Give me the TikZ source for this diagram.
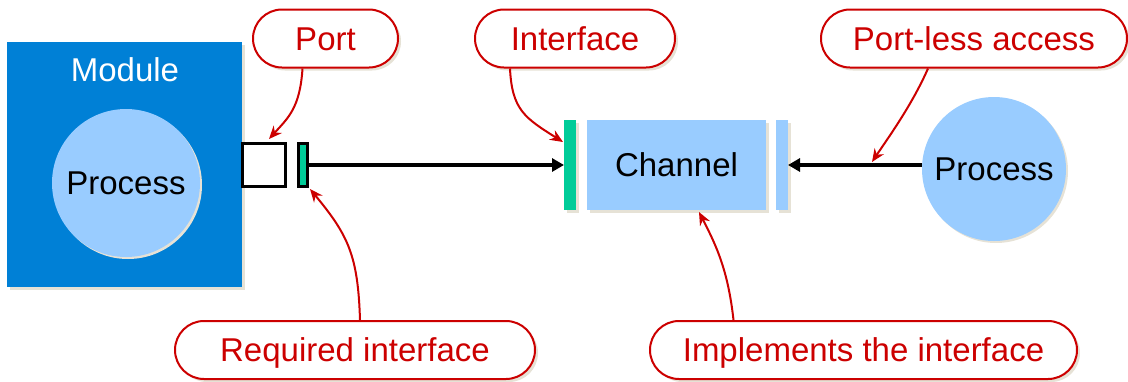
\documentclass[tikz,border=0pt]{standalone}
\usepackage{fontspec}
\setmainfont{Liberation Sans}
\usetikzlibrary{arrows.meta,shadows}
\definecolor{modblue}{RGB}{0,128,214}
\definecolor{lblue}{RGB}{153,204,255}
\definecolor{igreen}{RGB}{0,204,153}
\definecolor{cred}{RGB}{204,0,0}
\definecolor{shad}{RGB}{230,226,214}
\begin{document}
\begin{tikzpicture}[x=1pt,y=-1pt,
  font=\fontsize{33}{39}\selectfont,
  every node/.style={text height=23.6pt,text depth=0pt},
  shd/.style={drop shadow={shadow xshift=3pt,shadow yshift=-3pt,fill=shad,opacity=1}},
  blk/.style={rectangle,inner sep=0pt,outer sep=0pt},
  callout/.style={rectangle,draw=cred,line width=2pt,fill=white,text=cred,
    rounded corners=29pt,minimum height=58pt,inner sep=0pt,
    drop shadow={shadow xshift=3pt,shadow yshift=-3pt,fill=shad,opacity=1}},
  redarrow/.style={draw=cred,line width=2pt,-{Stealth[length=13pt,width=11pt]}},
  blkarrow/.style={draw=black,line width=3.2pt,-{Triangle[length=12pt,width=13pt]}}
]
\useasboundingbox (0,0) rectangle (1128,381);

% module
\node[blk,shd,fill=modblue,minimum width=235pt,minimum height=245pt] (module) at (124.5,164.5) {};
\node[text=white] (modlabel) at (125,70) {Module};
\node[circle,inner sep=0pt,fill=lblue,minimum size=148pt,
  drop shadow={shadow xshift=2pt,shadow yshift=-2pt,fill=shad,opacity=1}] (proc1) at (126,183) {Process};

% port and required interface
\node[blk,draw=black,line width=3pt,fill=white,minimum width=43pt,minimum height=43pt] (port) at (264,165) {};
\node[blk,draw=black,line width=3pt,fill=igreen,minimum width=9pt,minimum height=43pt] (req) at (303,165) {};

% channel
\node[blk,shd,fill=igreen,minimum width=12pt,minimum height=90pt] (ibar) at (570,165) {};
\node[blk,shd,fill=lblue,minimum width=179pt,minimum height=90pt] (chan) at (676.5,165) {Channel};
\node[blk,shd,fill=lblue,minimum width=12pt,minimum height=90pt] (rbar) at (782,165) {};

% right process
\node[circle,inner sep=0pt,fill=lblue,minimum size=144pt,
  drop shadow={shadow xshift=2pt,shadow yshift=-2pt,fill=shad,opacity=1}] (proc2) at (994,169) {Process};

% black arrows
\draw[blkarrow] (req.east) -- (ibar.west);
\draw[blkarrow] (proc2.west |- rbar.east) -- (rbar.east);

% callouts
\node[callout,minimum width=145pt] (portc) at (325.5,38.5) {Port};
\node[callout,minimum width=200pt] (intc) at (575,38.5) {Interface};
\node[callout,minimum width=306pt] (plc) at (974,38.5) {Port-less access};
\node[callout,minimum width=360pt] (reqc) at (355,350) {Required interface};
\node[callout,minimum width=427pt] (implc) at (863.5,350) {Implements the interface};

% targets
\coordinate (porttip) at (269,139);
\coordinate (inttip) at (563,142);
\coordinate (pltip) at (872,162);
\coordinate (reqtip) at (310,189);
\coordinate (impltip) at (699,212);

% red arrows
\draw[redarrow] ([xshift=-23pt]portc.south) .. controls (300,108) and (288,118) .. (porttip);
\draw[redarrow] ([xshift=-65pt]intc.south) .. controls (512,110) and (525,118) .. (inttip);
\draw[redarrow] ([xshift=-46pt]plc.south) .. controls (912,105) and (888,138) .. (pltip);
\draw[redarrow] ([xshift=5pt]reqc.north) .. controls (358,255) and (348,235) .. (reqtip);
\draw[redarrow] ([xshift=-130pt]implc.north) .. controls (728,270) and (716,245) .. (impltip);
\end{tikzpicture}
\end{document}
